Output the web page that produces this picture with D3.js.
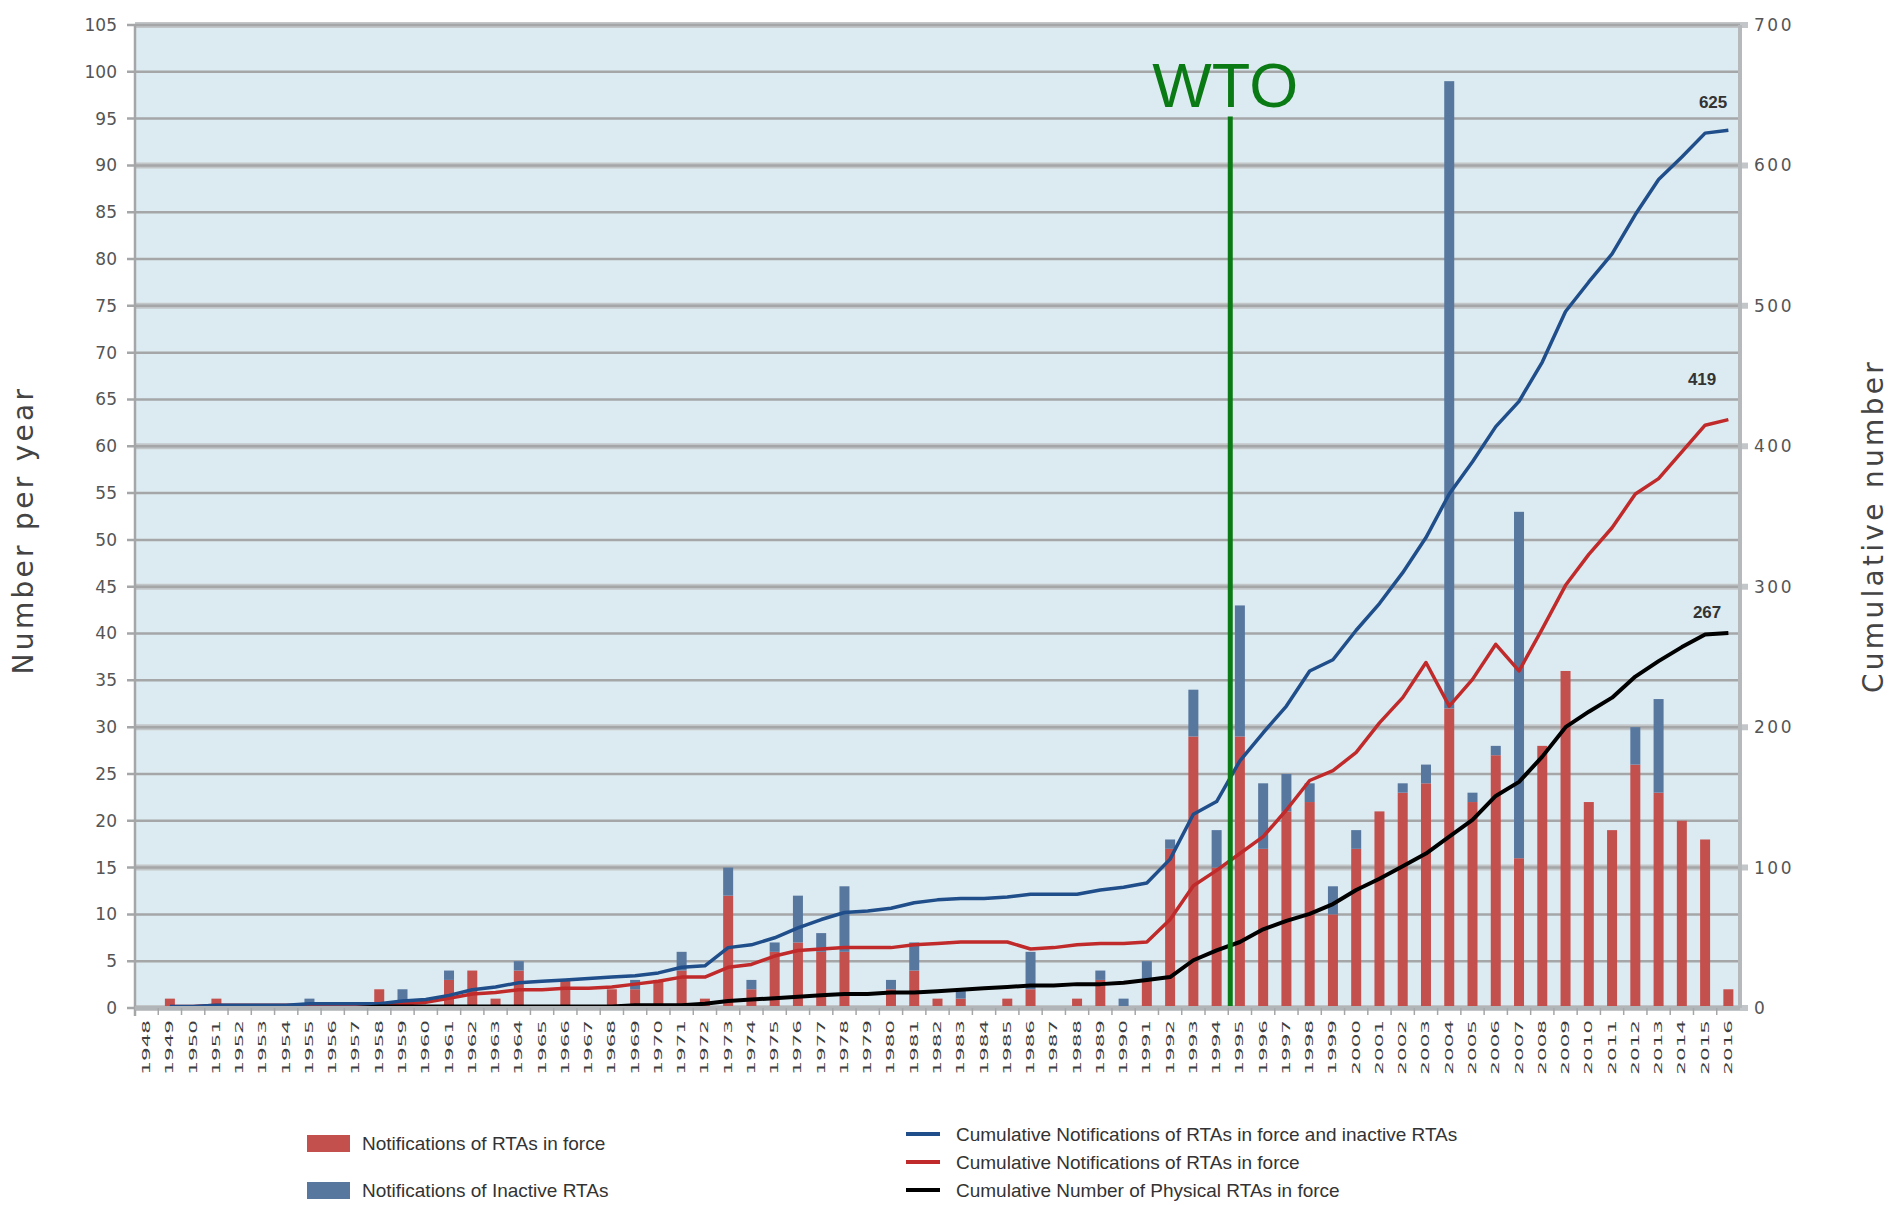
<!DOCTYPE html>
<html>
<head>
<meta charset="utf-8">
<script src="https://cdn.jsdelivr.net/npm/d3@7/dist/d3.min.js"></script>
<style>
  body { margin: 0; background: #ffffff; }
  .axis text { font-family: "DejaVu Sans", sans-serif; fill: #555555; }
  .axisTitle { font-family: "DejaVu Sans", sans-serif; fill: #444444; }
  .legendText { font-family: "Liberation Sans", Arial, sans-serif; font-size: 19px; fill: #333333; }
</style>
</head>
<body>
<div class="chart"></div>
<script>
// categories
var years = [1948, 1949, 1950, 1951, 1952, 1953, 1954, 1955, 1956, 1957,
  1958, 1959, 1960, 1961, 1962, 1963, 1964, 1965, 1966, 1967,
  1968, 1969, 1970, 1971, 1972, 1973, 1974, 1975, 1976, 1977,
  1978, 1979, 1980, 1981, 1982, 1983, 1984, 1985, 1986, 1987,
  1988, 1989, 1990, 1991, 1992, 1993, 1994, 1995, 1996, 1997,
  1998, 1999, 2000, 2001, 2002, 2003, 2004, 2005, 2006, 2007,
  2008, 2009, 2010, 2011, 2012, 2013, 2014, 2015, 2016];

// bars: number per year (left axis)
var inForce = [0, 1, 0, 1, 0, 0, 0, 0, 0, 0,
  2, 0, 0, 3, 4, 1, 4, 0, 3, 0,
  2, 2, 3, 4, 1, 12, 2, 6, 7, 6,
  6, 0, 2, 4, 1, 1, 0, 1, 2, 0,
  1, 3, 0, 3, 17, 29, 15, 29, 17, 21,
  22, 10, 17, 21, 23, 24, 32, 22, 27, 16,
  28, 36, 22, 19, 26, 23, 20, 18, 2];

var inactive = [0, 0, 0, 0, 0, 0, 0, 1, 0, 0,
  0, 2, 0, 1, 0, 0, 1, 0, 0, 0,
  0, 1, 0, 2, 0, 3, 1, 1, 5, 2,
  7, 0, 1, 3, 0, 1, 0, 0, 4, 0,
  0, 1, 1, 2, 1, 5, 4, 14, 7, 4,
  2, 3, 2, 0, 1, 2, 67, 1, 1, 37,
  0, 0, 0, 0, 4, 10, 0, 0, 0];

// lines: cumulative number (right axis)
var cumAll = [null, 1, 1, 2, 2, 2, 2, 3, 3, 3,
  3, 5, 6, 9, 13, 15, 18, 19, 20, 21,
  22, 23, 25, 29, 30, 43, 45, 50, 57, 63,
  68, 69, 71, 75, 77, 78, 78, 79, 81, 81,
  81, 84, 86, 89, 106, 138, 147, 176, 196, 215,
  240, 248, 269, 288, 310, 335, 366, 389, 414, 432,
  460, 496, 517, 537, 565, 590, 606, 623, 625];

var cumInForce = [null, 1, 1, 2, 2, 2, 2, 2, 2, 2,
  2, 3, 4, 7, 10, 11, 13, 13, 14, 14,
  15, 17, 19, 22, 22, 29, 31, 37, 41, 42,
  43, 43, 43, 45, 46, 47, 47, 47, 42, 43,
  45, 46, 46, 47, 63, 87, 98, 110, 122, 141,
  162, 169, 182, 203, 221, 246, 215, 234, 259, 240,
  270, 301, 323, 342, 366, 377, 396, 415, 419];

var cumPhysical = [null, null, null, null, null, null, null, null, null, 0,
  1, 1, 1, 1, 1, 1, 1, 1, 1, 1,
  1, 2, 2, 2, 3, 5, 6, 7, 8, 9,
  10, 10, 11, 11, 12, 13, 14, 15, 16, 16,
  17, 17, 18, 20, 22, 34, 41, 47, 56, 62,
  67, 74, 84, 92, 101, 110, 122, 134, 151, 161,
  179, 200, 211, 221, 236, 247, 257, 266, 267];

var leftTicks = [0, 5, 10, 15, 20, 25, 30, 35, 40, 45, 50, 55, 60, 65, 70, 75, 80, 85, 90, 95, 100, 105];
var rightTicks = [0, 100, 200, 300, 400, 500, 600, 700];

var barNames = ["Notifications of RTAs in force", "Notifications of Inactive RTAs"];
var lineNames = ["Cumulative Notifications of RTAs in force and inactive RTAs",
  "Cumulative Notifications of RTAs in force",
  "Cumulative Number of Physical RTAs in force"];

var wtoLabel = "WTO";
var wtoYear = 1995;
var wtoTop = 95;

var svgWidth = 1890;
var svgHeight = 1205;

var margin = { top: 25, right: 150, bottom: 197, left: 135 };

var width = svgWidth - margin.left - margin.right;
var height = svgHeight - margin.top - margin.bottom;

var barColors = ["#c4504e", "#57779f"];
var lineColors = ["#1f4e8a", "#c02a2a", "#000000"];

var svg = d3.select(".chart")
  .append("svg")
  .attr("width", svgWidth)
  .attr("height", svgHeight);

var chartGroup = svg.append("g")
  .attr("transform", `translate(${margin.left}, ${margin.top})`);

// scales
var xBandScale = d3.scaleBand()
  .domain(years)
  .range([0, width])
  .paddingInner(0.57)
  .paddingOuter(0.285);

var yLeftScale = d3.scaleLinear()
  .domain([0, 105])
  .range([height, 0]);

var yRightScale = d3.scaleLinear()
  .domain([0, 700])
  .range([height, 0]);

// plot background
chartGroup.append("rect")
  .attr("width", width)
  .attr("height", height)
  .attr("fill", "#dcebf1");

// grid lines (right axis ones are wider and lighter)
chartGroup.selectAll(".gridRight")
  .data(rightTicks)
  .enter()
  .append("line")
  .attr("class", "gridRight")
  .attr("x1", 0)
  .attr("x2", width + 8)
  .attr("y1", d => yRightScale(d))
  .attr("y2", d => yRightScale(d))
  .attr("stroke", "#c3c6c8")
  .attr("stroke-width", 6);

chartGroup.selectAll(".gridLeft")
  .data(leftTicks)
  .enter()
  .append("line")
  .attr("class", "gridLeft")
  .attr("x1", -8)
  .attr("x2", width)
  .attr("y1", d => yLeftScale(d))
  .attr("y2", d => yLeftScale(d))
  .attr("stroke", "#a4a6a8")
  .attr("stroke-width", 2.5);

// stacked bars
var rows = years.map(function(y, i) {
  return { year: y, inForce: inForce[i], inactive: inactive[i] };
});

var stacked = d3.stack().keys(["inForce", "inactive"])(rows);

chartGroup.selectAll(".series")
  .data(stacked)
  .enter()
  .append("g")
  .attr("class", "series")
  .attr("fill", (d, i) => barColors[i])
  .selectAll("rect")
  .data(d => d.filter(p => p[1] > p[0]))
  .enter()
  .append("rect")
  .attr("x", d => xBandScale(d.data.year))
  .attr("width", xBandScale.bandwidth())
  .attr("y", d => yLeftScale(d[1]))
  .attr("height", d => yLeftScale(d[0]) - yLeftScale(d[1]));

// cumulative lines
var xCenter = function(i) { return xBandScale(years[i]) + xBandScale.bandwidth() / 2; };

var lineGen = d3.line()
  .defined(d => d !== null)
  .x((d, i) => xCenter(i))
  .y(d => yRightScale(d));

var lineSeries = [
  { values: cumInForce, color: lineColors[1], w: 3.5 },
  { values: cumAll, color: lineColors[0], w: 3.5 },
  { values: cumPhysical, color: lineColors[2], w: 4 }
];

lineSeries.forEach(function(s) {
  chartGroup.append("path")
    .datum(s.values)
    .attr("fill", "none")
    .attr("stroke", s.color)
    .attr("stroke-width", s.w)
    .attr("stroke-linejoin", "round")
    .attr("d", lineGen);
});

// end labels
var endSeries = [cumAll, cumInForce, cumPhysical];
var endDy = [-22, -35, -15];
var endDx = [8, -3, 2];
endSeries.forEach(function(vals, k) {
  var last = vals.length - 1;
  chartGroup.append("text")
    .attr("x", xCenter(last - 1) + endDx[k])
    .attr("y", yRightScale(vals[last]) + endDy[k])
    .attr("text-anchor", "middle")
    .attr("font-family", "Liberation Sans, Arial, sans-serif")
    .attr("font-weight", "bold")
    .attr("font-size", "17px")
    .attr("fill", "#333333")
    .text(vals[last]);
});

// WTO marker
var wtoX = xBandScale(wtoYear) - (xBandScale.step() - xBandScale.bandwidth()) / 2 + 2;

chartGroup.append("line")
  .attr("x1", wtoX)
  .attr("x2", wtoX)
  .attr("y1", yLeftScale(wtoTop) - 2)
  .attr("y2", yLeftScale(0))
  .attr("stroke", "#0a7a14")
  .attr("stroke-width", 5);

chartGroup.append("text")
  .attr("x", wtoX - 5)
  .attr("y", yLeftScale(wtoTop) - 12)
  .attr("text-anchor", "middle")
  .attr("font-family", "Liberation Sans, Arial, sans-serif")
  .attr("font-size", "63px")
  .attr("fill", "#0a7a14")
  .text(wtoLabel);

// frame
chartGroup.append("line")
  .attr("x1", 0).attr("x2", 0)
  .attr("y1", 0).attr("y2", height + 8)
  .attr("stroke", "#a4a6a8")
  .attr("stroke-width", 2.5);

chartGroup.append("line")
  .attr("x1", width).attr("x2", width)
  .attr("y1", 0).attr("y2", height)
  .attr("stroke", "#b6b9bb")
  .attr("stroke-width", 4);

chartGroup.append("line")
  .attr("x1", 0).attr("x2", width)
  .attr("y1", height).attr("y2", height)
  .attr("stroke", "#b2b5b7")
  .attr("stroke-width", 4);

// x ticks at band edges
chartGroup.selectAll(".xTick")
  .data(years.slice(1))
  .enter()
  .append("line")
  .attr("class", "xTick")
  .attr("x1", d => xBandScale(d) - (xBandScale.step() - xBandScale.bandwidth()) / 2)
  .attr("x2", d => xBandScale(d) - (xBandScale.step() - xBandScale.bandwidth()) / 2)
  .attr("y1", height)
  .attr("y2", height + 7)
  .attr("stroke", "#a4a6a8")
  .attr("stroke-width", 1.5);

// axes
var bottomAxis = d3.axisBottom(xBandScale).tickSize(0);
var leftAxis = d3.axisLeft(yLeftScale).tickValues(leftTicks).tickSize(0).tickPadding(18);
var rightAxis = d3.axisRight(yRightScale).tickValues(rightTicks).tickSize(0).tickPadding(14);

var xAxisGroup = chartGroup.append("g")
  .attr("class", "axis")
  .attr("transform", `translate(0, ${height})`)
  .call(bottomAxis);

xAxisGroup.select(".domain").remove();
xAxisGroup.selectAll("text")
  .attr("x", 0)
  .attr("y", 0)
  .attr("dy", "0.35em")
  .attr("text-anchor", "end")
  .attr("font-size", "10px")
  .attr("transform", "translate(0, 12) rotate(-90) scale(2.15, 1)")
  .style("fill", "#3d3d3d");

var leftGroup = chartGroup.append("g")
  .attr("class", "axis")
  .call(leftAxis);
leftGroup.select(".domain").remove();
leftGroup.selectAll("text").attr("font-size", "17px");

var rightGroup = chartGroup.append("g")
  .attr("class", "axis")
  .attr("transform", `translate(${width}, 0)`)
  .call(rightAxis);
rightGroup.select(".domain").remove();
rightGroup.selectAll("text")
  .attr("font-size", "17px")
  .attr("letter-spacing", "2.5px");

// axis titles
svg.append("text")
  .attr("class", "axisTitle")
  .attr("transform", "translate(33, 530) rotate(-90)")
  .attr("text-anchor", "middle")
  .attr("font-size", "28px")
  .attr("letter-spacing", "3.3px")
  .text("Number per year");

svg.append("text")
  .attr("class", "axisTitle")
  .attr("transform", "translate(1883, 526) rotate(-90)")
  .attr("text-anchor", "middle")
  .attr("font-size", "28px")
  .attr("letter-spacing", "3.3px")
  .text("Cumulative number");

// legend
var legendGroup = svg.append("g");

barNames.forEach(function(name, i) {
  var ly = 1143 + i * 47;
  legendGroup.append("rect")
    .attr("x", 307)
    .attr("y", ly - 8)
    .attr("width", 43)
    .attr("height", 17)
    .attr("fill", barColors[i]);
  legendGroup.append("text")
    .attr("class", "legendText")
    .attr("x", 362)
    .attr("y", ly)
    .attr("dy", "0.35em")
    .text(name);
});

lineNames.forEach(function(name, i) {
  var ly = 1134 + i * 28;
  legendGroup.append("line")
    .attr("x1", 906)
    .attr("x2", 940)
    .attr("y1", ly)
    .attr("y2", ly)
    .attr("stroke", lineColors[i])
    .attr("stroke-width", 4);
  legendGroup.append("text")
    .attr("class", "legendText")
    .attr("x", 956)
    .attr("y", ly)
    .attr("dy", "0.35em")
    .text(name);
});
</script>
</body>
</html>
